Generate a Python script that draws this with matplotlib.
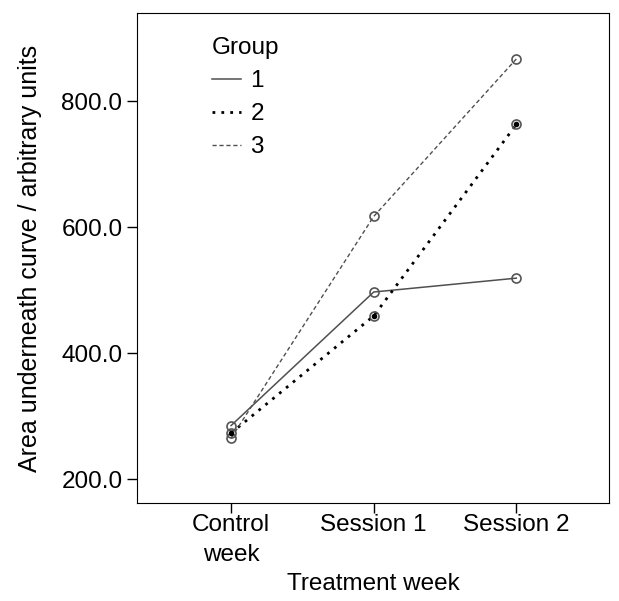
import matplotlib.pyplot as plt
import numpy as np

plt.rcParams['font.family'] = ['Liberation Sans', 'DejaVu Sans']

# data
weeks = ["Control\nweek", "Session 1", "Session 2"]
group1 = [285, 497, 519]
group2 = [273, 459, 763]
group3 = [265, 617, 867]

x = np.arange(len(weeks))
fs = 17.5

fig = plt.figure(figsize=(6.19, 6.01), dpi=100)
ax = fig.add_axes([137 / 619, 1 - 503 / 601, (609 - 137) / 619, (503 - 13) / 601])

l1, = ax.plot(x, group1, color='#505050', lw=1.1, ls='-', label='1')
l2, = ax.plot(x, group2, color='black', lw=2.0, ls=(0, (1, 2.2)), label='2')
l3, = ax.plot(x, group3, color='#505050', lw=1.0, ls=(0, (3, 2)), label='3')

for vals in (group1, group2, group3):
    ax.plot(x, vals, ls='none', marker='o', ms=6.5, mfc='none', mec='#555555', mew=1.2)
ax.plot(x, group2, ls='none', marker='o', ms=3, color='black')

ax.set_xlim(-0.66, 2.65)
ax.set_ylim(162, 940)
ax.set_xticks(x)
ax.set_xticklabels(weeks, fontsize=fs, linespacing=1.45)
ax.set_yticks([200, 400, 600, 800])
ax.set_yticklabels(["200.0", "400.0", "600.0", "800.0"], fontsize=fs)
ax.tick_params(direction='out', length=7, width=1)
ax.tick_params(axis='x', pad=1)
ax.set_xlabel("Treatment week", fontsize=fs, labelpad=5)
ax.set_ylabel("Area underneath curve / arbitrary units", fontsize=18, labelpad=14)

leg = ax.legend(handles=[l1, l2, l3], title="Group", loc='upper left',
                bbox_to_anchor=(0.122, 0.985), frameon=False, fontsize=fs,
                title_fontsize=fs, handlelength=1.2, handletextpad=0.4,
                labelspacing=0.45, alignment='left', borderpad=0.2)

fig.savefig('out.png', dpi=100)
